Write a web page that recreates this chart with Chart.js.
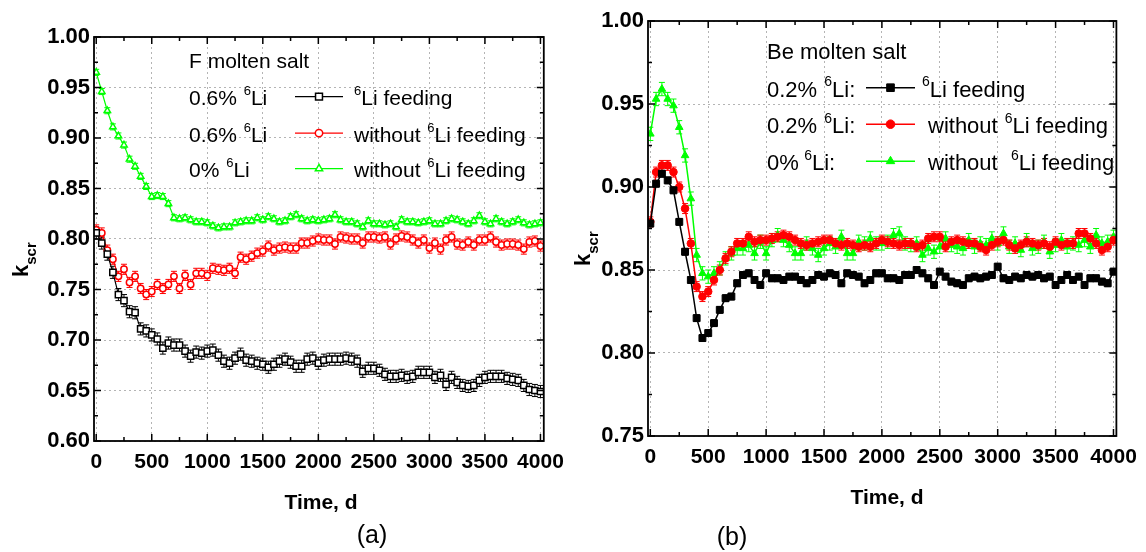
<!DOCTYPE html>
<html>
<head>
<meta charset="utf-8">
<script src="https://cdn.jsdelivr.net/npm/chart.js@4.4.1/dist/chart.umd.min.js"></script>
<style>
  body { margin: 0; background: #fff; }
  #wrap { position: relative; width: 1146px; height: 552px; overflow: hidden; }
  canvas { position: absolute; top: 0; }
</style>
</head>
<body>
<div id="wrap">
  <canvas id="chartF" width="573" height="552" style="left:0"></canvas>
  <canvas id="chartBe" width="586" height="552" style="left:560px"></canvas>
</div>
<script>
// time axis, days
const days = [
  0, 50, 100, 150, 200, 250, 300, 350, 400, 450,
  500, 550, 600, 650, 700, 750, 800, 850, 900, 950,
  1000, 1050, 1100, 1150, 1200, 1250, 1300, 1350, 1400, 1450,
  1500, 1550, 1600, 1650, 1700, 1750, 1800, 1850, 1900, 1950,
  2000, 2050, 2100, 2150, 2200, 2250, 2300, 2350, 2400, 2450,
  2500, 2550, 2600, 2650, 2700, 2750, 2800, 2850, 2900, 2950,
  3000, 3050, 3100, 3150, 3200, 3250, 3300, 3350, 3400, 3450,
  3500, 3550, 3600, 3650, 3700, 3750, 3800, 3850, 3900, 3950,
  4000
];

// (a) F molten salt
const kFeedF = [
  0.806, 0.796, 0.785, 0.767, 0.745, 0.739, 0.728, 0.727, 0.711, 0.709,
  0.705, 0.701, 0.692, 0.697, 0.695, 0.695, 0.689, 0.684, 0.688, 0.687,
  0.689, 0.690, 0.685, 0.679, 0.677, 0.682, 0.686, 0.680, 0.679, 0.677,
  0.676, 0.673, 0.676, 0.679, 0.681, 0.678, 0.674, 0.674, 0.681, 0.682,
  0.677, 0.680, 0.681, 0.681, 0.681, 0.682, 0.681, 0.679, 0.669, 0.672,
  0.672, 0.670, 0.666, 0.664, 0.664, 0.665, 0.663, 0.664, 0.668, 0.668,
  0.668, 0.663, 0.665, 0.656, 0.663, 0.658, 0.655, 0.654, 0.655, 0.660,
  0.663, 0.664, 0.664, 0.664, 0.662, 0.661, 0.660, 0.655, 0.651, 0.650,
  0.649
];
const kNoFeedF = [
  0.809, 0.806, 0.789, 0.780, 0.763, 0.770, 0.757, 0.763, 0.751, 0.745,
  0.748, 0.755, 0.751, 0.755, 0.763, 0.751, 0.764, 0.755, 0.766, 0.766,
  0.764, 0.771, 0.770, 0.769, 0.771, 0.766, 0.782, 0.780, 0.783, 0.786,
  0.788, 0.793, 0.789, 0.791, 0.792, 0.791, 0.791, 0.796, 0.796, 0.798,
  0.800, 0.799, 0.799, 0.795, 0.802, 0.801, 0.800, 0.800, 0.796, 0.802,
  0.802, 0.801, 0.802, 0.795, 0.800, 0.803, 0.802, 0.799, 0.796, 0.799,
  0.791, 0.796, 0.790, 0.799, 0.802, 0.795, 0.794, 0.797, 0.794, 0.799,
  0.799, 0.802, 0.797, 0.794, 0.795, 0.795, 0.794, 0.790, 0.797, 0.798,
  0.793
];
const kNoLiF = [
  0.965, 0.946, 0.927, 0.911, 0.902, 0.893, 0.879, 0.872, 0.862, 0.852,
  0.842, 0.843, 0.842, 0.835, 0.821, 0.820, 0.821, 0.819, 0.817, 0.817,
  0.816, 0.813, 0.811, 0.812, 0.812, 0.816, 0.817, 0.818, 0.818, 0.821,
  0.819, 0.822, 0.820, 0.817, 0.818, 0.822, 0.824, 0.820, 0.818, 0.819,
  0.818, 0.819, 0.820, 0.824, 0.819, 0.817, 0.817, 0.815, 0.812, 0.818,
  0.815, 0.815, 0.814, 0.815, 0.812, 0.819, 0.817, 0.817, 0.816, 0.817,
  0.818, 0.815, 0.815, 0.818, 0.820, 0.819, 0.817, 0.815, 0.818, 0.823,
  0.817, 0.815, 0.820, 0.817, 0.815, 0.817, 0.819, 0.816, 0.814, 0.815,
  0.816
];

// (b) Be molten salt
const kFeedBe = [
  0.878, 0.902, 0.908, 0.904, 0.898, 0.879, 0.861, 0.844, 0.821, 0.809,
  0.812, 0.818, 0.826, 0.833, 0.834, 0.842, 0.847, 0.848, 0.844, 0.841,
  0.848, 0.845, 0.845, 0.844, 0.846, 0.846, 0.844, 0.842, 0.844, 0.847,
  0.846, 0.848, 0.847, 0.842, 0.848, 0.847, 0.846, 0.842, 0.844, 0.848,
  0.848, 0.845, 0.845, 0.844, 0.847, 0.847, 0.850, 0.848, 0.845, 0.841,
  0.849, 0.846, 0.843, 0.842, 0.841, 0.845, 0.846, 0.845, 0.846, 0.847,
  0.852, 0.845, 0.844, 0.846, 0.845, 0.847, 0.846, 0.847, 0.845, 0.846,
  0.841, 0.844, 0.847, 0.844, 0.846, 0.841, 0.845, 0.845, 0.843, 0.842,
  0.849
];
const kNoFeedBe = [
  0.879, 0.909, 0.913, 0.913, 0.909, 0.900, 0.887, 0.866, 0.840, 0.834,
  0.837, 0.844, 0.850, 0.857, 0.861, 0.866, 0.866, 0.870, 0.867, 0.868,
  0.868, 0.869, 0.870, 0.871, 0.870, 0.868, 0.866, 0.865, 0.866, 0.867,
  0.868, 0.868, 0.866, 0.865, 0.866, 0.865, 0.864, 0.865, 0.864, 0.866,
  0.868, 0.867, 0.866, 0.865, 0.866, 0.866, 0.864, 0.865, 0.869, 0.870,
  0.870, 0.864, 0.867, 0.868, 0.867, 0.866, 0.866, 0.864, 0.862, 0.865,
  0.867, 0.868, 0.865, 0.863, 0.865, 0.867, 0.866, 0.865, 0.866, 0.864,
  0.867, 0.865, 0.866, 0.866, 0.872, 0.872, 0.869, 0.866, 0.862, 0.864,
  0.868
];
const kNoLiBe = [
  0.932, 0.953, 0.959, 0.953, 0.949, 0.936, 0.919, 0.893, 0.859, 0.848,
  0.846, 0.848, 0.851, 0.857, 0.860, 0.863, 0.863, 0.865, 0.860, 0.867,
  0.860, 0.868, 0.871, 0.868, 0.865, 0.860, 0.860, 0.866, 0.863, 0.859,
  0.863, 0.866, 0.864, 0.870, 0.860, 0.860, 0.867, 0.866, 0.869, 0.866,
  0.866, 0.867, 0.871, 0.872, 0.866, 0.865, 0.866, 0.859, 0.863, 0.861,
  0.864, 0.869, 0.865, 0.864, 0.863, 0.868, 0.864, 0.866, 0.865, 0.869,
  0.866, 0.872, 0.864, 0.866, 0.862, 0.868, 0.863, 0.864, 0.867, 0.861,
  0.865, 0.868, 0.864, 0.866, 0.865, 0.868, 0.864, 0.871, 0.866, 0.867,
  0.870
];

// statistical error (half width) per series: feeding, without feeding, 0% 6Li
const errF = [0.006, 0.005, 0.003];
const errBe = [0.002, 0.003, 0.004];

// axis ticks
const xTicks = [0, 500, 1000, 1500, 2000, 2500, 3000, 3500, 4000];
const yTicksF = [0.60, 0.65, 0.70, 0.75, 0.80, 0.85, 0.90, 0.95, 1.00];
const yTicksBe = [0.75, 0.80, 0.85, 0.90, 0.95, 1.00];

const FONT = '"Liberation Sans", Arial, Helvetica, sans-serif';
Chart.defaults.font.family = FONT;
Chart.defaults.color = '#000';

function points(vals) {
  return days.map((d, i) => ({ x: d, y: vals[i] }));
}

function series(label, vals, color, style, radius, hollow, err, width) {
  return {
    label: label,
    data: points(vals),
    errorBar: err,
    borderColor: color,
    backgroundColor: color,
    borderWidth: width,
    pointStyle: style,
    pointRadius: radius,
    pointBorderWidth: hollow ? 1.5 : 1,
    pointBorderColor: color,
    pointBackgroundColor: hollow ? '#fff' : color,
    tension: 0,
    fill: false
  };
}

// vertical error bars with caps, under the markers
const errorBars = {
  id: 'errorBars',
  beforeDatasetsDraw(chart) {
    const { ctx, chartArea: a, scales: { x, y } } = chart;
    ctx.save();
    ctx.beginPath();
    ctx.rect(a.left, a.top, a.right - a.left, a.bottom - a.top);
    ctx.clip();
    ctx.lineWidth = 1;
    chart.data.datasets.slice().reverse().forEach(ds => {
      if (!ds.errorBar) return;
      ctx.strokeStyle = ds.borderColor;
      ctx.beginPath();
      ds.data.forEach(p => {
        const px = x.getPixelForValue(p.x);
        const top = y.getPixelForValue(p.y + ds.errorBar);
        const bot = y.getPixelForValue(p.y - ds.errorBar);
        ctx.moveTo(px, top); ctx.lineTo(px, bot);
        ctx.moveTo(px - 3, top); ctx.lineTo(px + 3, top);
        ctx.moveTo(px - 3, bot); ctx.lineTo(px + 3, bot);
      });
      ctx.stroke();
    });
    ctx.restore();
  }
};

// text with "^6" style superscripts
function richText(ctx, parts, x, y, size) {
  parts.forEach(p => {
    if (p[0] === '^') {
      const t = p.slice(1);
      ctx.font = Math.round(size * 0.62) + 'px ' + FONT;
      ctx.fillText(t, x + 1, y - size * 0.47);
      x += ctx.measureText(t).width + 1;
    } else {
      ctx.font = size + 'px ' + FONT;
      ctx.fillText(p, x, y);
      x += ctx.measureText(p).width;
    }
  });
}

// frame, inward ticks, legend block and titles
function decoration(cfg) {
  return {
    id: 'decoration',
    afterDraw(chart) {
      const { ctx, chartArea: a, scales: { x, y } } = chart;
      ctx.save();

      ctx.strokeStyle = '#000';
      ctx.lineWidth = 1.5;
      ctx.beginPath();
      for (let v = 0; v <= 4000; v += 250) {
        const px = x.getPixelForValue(v);
        const len = v % 500 === 0 ? 7 : 4;
        ctx.moveTo(px, a.bottom); ctx.lineTo(px, a.bottom - len);
        ctx.moveTo(px, a.top); ctx.lineTo(px, a.top + len);
      }
      for (let i = 0; ; i++) {
        const v = cfg.yMin + i * 0.025;
        if (v > cfg.yMax + 1e-9) break;
        const py = y.getPixelForValue(v);
        const len = i % 2 === 0 ? 7 : 4;
        ctx.moveTo(a.left, py); ctx.lineTo(a.left + len, py);
        ctx.moveTo(a.right, py); ctx.lineTo(a.right - len, py);
      }
      ctx.stroke();

      ctx.lineWidth = 1.8;
      ctx.strokeRect(a.left, a.top, a.right - a.left, a.bottom - a.top);

      // legend
      const lg = cfg.legend;
      ctx.fillStyle = '#000';
      ctx.textBaseline = 'alphabetic';
      ctx.textAlign = 'left';
      ctx.font = lg.size + 'px ' + FONT;
      ctx.fillText(lg.title, lg.leftX, lg.titleY);
      lg.rows.forEach((row, i) => {
        const ds = chart.data.datasets[i];
        ctx.fillStyle = '#000';
        richText(ctx, row.left, lg.leftX, row.y, lg.size);
        richText(ctx, row.right, row.rightX, row.y, lg.size);
        const ly = row.y - lg.size * 0.4;
        ctx.strokeStyle = ds.borderColor;
        ctx.lineWidth = ds.borderWidth;
        ctx.beginPath();
        ctx.moveTo(lg.lineFrom, ly); ctx.lineTo(lg.lineTo, ly);
        ctx.stroke();
        ctx.fillStyle = ds.pointBackgroundColor;
        ctx.lineWidth = ds.pointBorderWidth;
        Chart.helpers.drawPoint(ctx, {
          pointStyle: ds.pointStyle, radius: ds.pointRadius + 0.5,
          rotation: 0, borderWidth: ds.pointBorderWidth
        }, (lg.lineFrom + lg.lineTo) / 2, ly);
      });

      // axis titles and panel label
      ctx.fillStyle = '#000';
      ctx.textAlign = 'center';
      ctx.textBaseline = 'middle';
      ctx.font = 'bold 21px ' + FONT;
      ctx.fillText('Time, d', cfg.xTitle[0], cfg.xTitle[1]);
      ctx.font = '25px ' + FONT;
      ctx.fillText(cfg.panel, cfg.panelPos[0], cfg.panelPos[1]);

      ctx.translate(cfg.yTitle[0], cfg.yTitle[1]);
      ctx.rotate(-Math.PI / 2);
      ctx.textAlign = 'left';
      ctx.textBaseline = 'alphabetic';
      ctx.font = 'bold 22px ' + FONT;
      ctx.fillText('k', 0, 0);
      const kw = ctx.measureText('k').width;
      ctx.font = 'bold 15px ' + FONT;
      ctx.fillText('scr', kw, 8);

      ctx.restore();
    }
  };
}

function makeChart(id, datasets, yTicks, geom, deco) {
  return new Chart(document.getElementById(id), {
    type: 'line',
    data: { datasets: datasets },
    options: {
      responsive: false,
      animation: false,
      events: [],
      layout: { padding: { left: 0, top: geom.top, right: geom.right, bottom: 0 } },
      plugins: { legend: { display: false }, tooltip: { enabled: false } },
      scales: {
        x: {
          type: 'linear', min: -20, max: geom.xMax, bounds: 'data',
          afterBuildTicks: s => { s.ticks = xTicks.map(v => ({ value: v })); },
          afterFit: s => { s.height = geom.xHeight; },
          border: { display: false, dash: [2, 3] },
          grid: { color: '#b4b4b4', lineWidth: 1, drawTicks: false },
          ticks: {
            autoSkip: false, maxRotation: 0,
            padding: 9, color: '#000', font: { size: 21, weight: 'bold' },
            callback: v => String(v)
          }
        },
        y: {
          min: yTicks[0], max: yTicks[yTicks.length - 1], bounds: 'data',
          afterBuildTicks: s => { s.ticks = yTicks.map(v => ({ value: v })); },
          afterFit: s => { s.width = geom.yWidth; },
          border: { display: false, dash: [2, 3] },
          grid: { color: '#b4b4b4', lineWidth: 1, drawTicks: false },
          ticks: {
            autoSkip: false, padding: 4, color: '#000',
            font: { size: 22, weight: 'bold' },
            callback: v => v.toFixed(2)
          }
        }
      }
    },
    plugins: [errorBars, decoration(deco)]
  });
}

makeChart('chartF', [
  series('0.6% 6Li, 6Li feeding', kFeedF, '#000000', 'rect', 4.4, true, errF[0], 1.2),
  series('0.6% 6Li, without 6Li feeding', kNoFeedF, '#ff0000', 'circle', 3.2, true, errF[1], 1.2),
  series('0% 6Li, without 6Li feeding', kNoLiF, '#00ff00', 'triangle', 3.7, true, errF[2], 1.2)
], yTicksF,
  { top: 37, right: 25, yWidth: 94, xHeight: 111, xMax: 4030 },
  {
    yMin: yTicksF[0], yMax: yTicksF[yTicksF.length - 1],
    xTitle: [321, 503], panel: '(a)', panelPos: [372, 536], yTitle: [28, 277],
    legend: {
      size: 21, title: 'F molten salt', titleY: 68, leftX: 189,
      lineFrom: 295, lineTo: 343,
      rows: [
        { y: 105, left: ['0.6% ', '^6', 'Li'], rightX: 353, right: ['^6', 'Li feeding'] },
        { y: 141.5, left: ['0.6% ', '^6', 'Li'], rightX: 354, right: ['without ', '^6', 'Li feeding'] },
        { y: 177, left: ['0% ', '^6', 'Li'], rightX: 354, right: ['without ', '^6', 'Li feeding'] }
      ]
    }
  });

makeChart('chartBe', [
  series('0.2% 6Li, 6Li feeding', kFeedBe, '#000000', 'rect', 4.9, false, errBe[0], 1.5),
  series('0.2% 6Li, without 6Li feeding', kNoFeedBe, '#ff0000', 'circle', 3.8, false, errBe[1], 1.5),
  series('0% 6Li, without 6Li feeding', kNoLiBe, '#00ff00', 'triangle', 4.4, false, errBe[2], 1.5)
], yTicksBe,
  { top: 21, right: 25, yWidth: 88, xHeight: 116, xMax: 4025 },
  {
    yMin: yTicksBe[0], yMax: yTicksBe[yTicksBe.length - 1],
    xTitle: [327, 498], panel: '(b)', panelPos: [172, 538], yTitle: [30, 266],
    legend: {
      size: 22, title: 'Be molten salt', titleY: 59, leftX: 207,
      lineFrom: 306, lineTo: 355,
      rows: [
        { y: 96.5, left: ['0.2% ', '^6', 'Li:'], rightX: 361, right: ['^6', 'Li feeding'] },
        { y: 133, left: ['0.2% ', '^6', 'Li:'], rightX: 368, right: ['without ', '^6', 'Li feeding'] },
        { y: 170, left: ['0%\u2009', '^6', 'Li:'], rightX: 368, right: ['without  ', '^6', 'Li feeding'] }
      ]
    }
  });
</script>
</body>
</html>
